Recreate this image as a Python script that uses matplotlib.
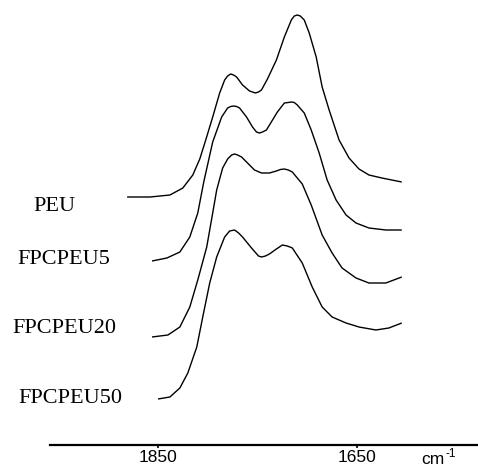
import matplotlib
matplotlib.use("Agg")
import matplotlib.pyplot as plt

# ---- data (wavenumber in cm-1, absorbance in arbitrary units) ----
labels = ["PEU", "FPCPEU5", "FPCPEU20", "FPCPEU50"]
offsets = [2.48, 1.84, 1.08, 0.46]

peu_wn = [1881, 1858, 1848, 1838, 1825, 1815, 1808, 1802, 1795, 1788, 1783, 1780,
          1777, 1774, 1771, 1765, 1758, 1755, 1752, 1749, 1746, 1740, 1731, 1723,
          1716, 1713, 1710, 1707, 1703, 1698, 1691, 1685, 1678, 1668, 1658, 1648,
          1638, 1625, 1605]
peu_ab = [0.00, 0.00, 0.01, 0.02, 0.09, 0.22, 0.38, 0.57, 0.80, 1.04, 1.17, 1.21,
          1.23, 1.22, 1.20, 1.12, 1.06, 1.05, 1.04, 1.05, 1.07, 1.18, 1.37, 1.60,
          1.77, 1.81, 1.82, 1.81, 1.77, 1.64, 1.40, 1.10, 0.87, 0.57, 0.39, 0.28,
          0.22, 0.19, 0.15]

f5_wn = [1856, 1841, 1828, 1818, 1810, 1804, 1795, 1786, 1780, 1777, 1774, 1771,
         1768, 1761, 1755, 1751, 1748, 1745, 1741, 1730, 1723, 1719, 1716, 1713,
         1710, 1703, 1696, 1688, 1680, 1671, 1661, 1651, 1638, 1621, 1605]
f5_ab = [0.00, 0.03, 0.09, 0.24, 0.48, 0.79, 1.19, 1.44, 1.53, 1.545, 1.55, 1.545,
         1.53, 1.44, 1.34, 1.29, 1.28, 1.29, 1.31, 1.49, 1.58, 1.585, 1.59, 1.585,
         1.56, 1.48, 1.31, 1.08, 0.81, 0.61, 0.46, 0.38, 0.33, 0.31, 0.31]

f20_wn = [1856, 1840, 1828, 1818, 1810, 1801, 1795, 1791, 1785, 1780, 1776, 1773,
          1770, 1766, 1760, 1753, 1746, 1738, 1731, 1727, 1723, 1719, 1715, 1705,
          1696, 1685, 1675, 1665, 1651, 1638, 1621, 1605]
f20_ab = [0.00, 0.02, 0.10, 0.30, 0.57, 0.90, 1.24, 1.47, 1.69, 1.78, 1.82, 1.83,
          1.82, 1.80, 1.74, 1.67, 1.64, 1.64, 1.66, 1.675, 1.68, 1.67, 1.65, 1.53,
          1.32, 1.02, 0.84, 0.69, 0.59, 0.54, 0.54, 0.60]

f50_wn = [1850, 1838, 1828, 1820, 1811, 1805, 1798, 1791, 1783, 1778, 1773, 1769,
          1765, 1756, 1749, 1746, 1742, 1738, 1731, 1725, 1720, 1715, 1705, 1695,
          1685, 1675, 1661, 1648, 1631, 1618, 1605]
f50_ab = [0.00, 0.02, 0.11, 0.26, 0.52, 0.82, 1.16, 1.42, 1.62, 1.68, 1.69, 1.66,
          1.62, 1.51, 1.43, 1.42, 1.43, 1.45, 1.50, 1.54, 1.53, 1.51, 1.36, 1.12,
          0.92, 0.82, 0.76, 0.72, 0.69, 0.71, 0.76]

series = [(peu_wn, peu_ab), (f5_wn, f5_ab), (f20_wn, f20_ab), (f50_wn, f50_ab)]
label_x = [1954.5, 1944.5, 1944.5, 1938.5]
label_y = [2.34, 1.81, 1.12, 0.42]
tick_vals = [1850, 1650]

# ---- figure ----
fig = plt.figure(figsize=(4.78, 4.66), dpi=100)
ax = fig.add_axes([50 / 478, 21 / 466, 428 / 478, 445 / 466])
ax.set_xlim(1958.5, 1528.4)
ax.set_ylim(0, 4.45)

for (wn, ab), off in zip(series, offsets):
    ax.plot(wn, [a + off for a in ab], color="black", lw=1.0,
            solid_joinstyle="round", solid_capstyle="butt", clip_on=False)

for lab, lx, ly in zip(labels, label_x, label_y):
    ax.text(lx, ly, lab, ha="center", va="baseline", fontsize=16,
            family="Liberation Serif", color="black", clip_on=False)

for s in ["top", "right", "left"]:
    ax.spines[s].set_visible(False)
ax.spines["bottom"].set_linewidth(1.6)
ax.set_yticks([])
ax.set_xticks(tick_vals)
ax.set_xticklabels([str(t) for t in tick_vals], family="Liberation Sans",
                   fontsize=12.5)
ax.tick_params(axis="x", direction="out", length=2, width=1.2, pad=1.5)
ax.patch.set_alpha(0)

fig.text(421 / 478, 0.004, "cm", family="Liberation Sans", fontsize=12.5,
         ha="left", va="baseline")
fig.text(445 / 478, 0.019, "-1", family="Liberation Sans", fontsize=8.5,
         ha="left", va="baseline")

fig.savefig("out.png", dpi=100)
